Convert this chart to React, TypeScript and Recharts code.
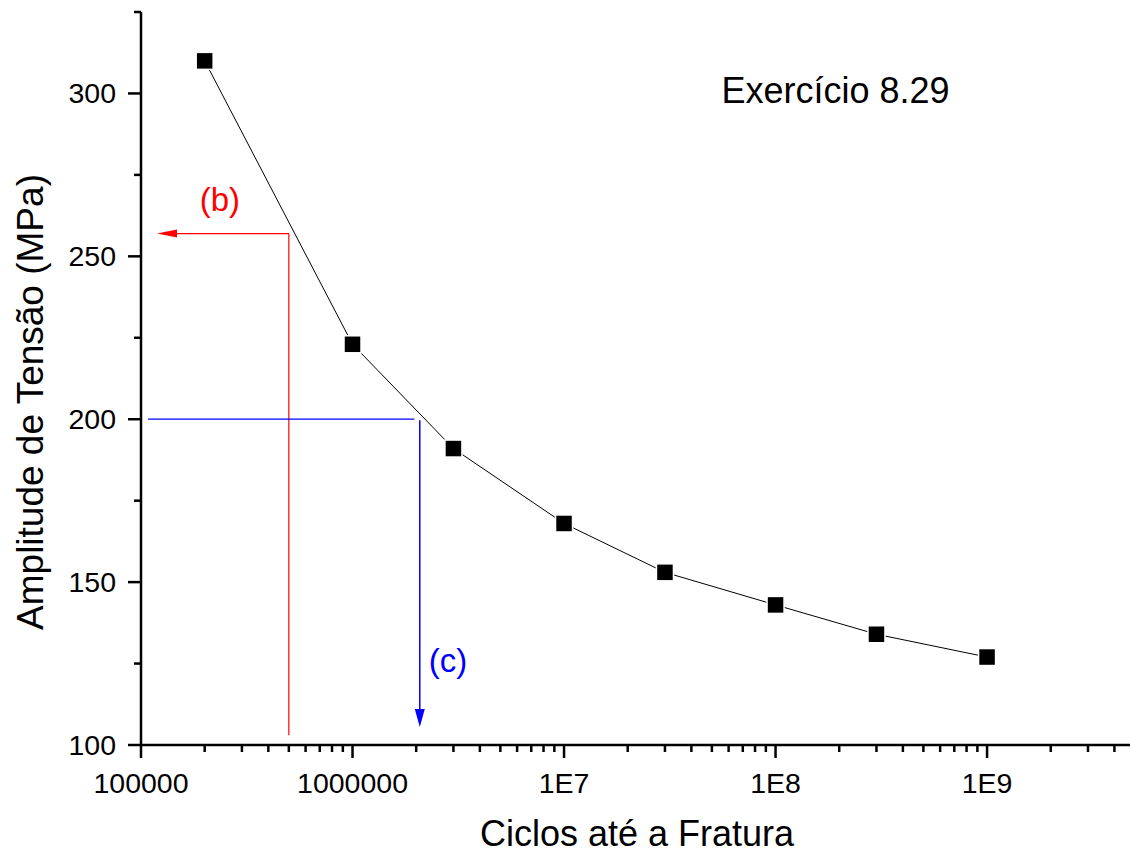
import React from 'react';
import { ScatterChart, Scatter, XAxis, YAxis, ReferenceLine, ReferenceDot } from 'recharts';

// ---- data ----
const cycles = [2e5, 1e6, 3e6, 1e7, 3e7, 1e8, 3e8, 1e9];
const stress = [310, 223, 191, 168, 153, 143, 134, 127];

const xMajorTicks = [1e5, 1e6, 1e7, 1e8, 1e9];
const xMajorLabels = ['100000', '1000000', '1E7', '1E8', '1E9'];
const xMinorMultipliers = [2, 3, 4, 5, 6, 7, 8, 9];
const xDomain = [1e5, 4.74e9];

const yMajorTicks = [100, 150, 200, 250, 300];
const yMinorTicks = [125, 175, 225, 275, 325];
const yDomain = [100, 325];

// annotation paths (part b in red, part c in blue)
const partBVertical = [{ x: 5e5, y: 103 }, { x: 5e5, y: 257 }];
const partBArrow = [{ x: 5e5, y: 257 }, { x: 1.19e5, y: 257 }];
const partCHorizontal = [{ x: 1.08e5, y: 200 }, { x: 1.96e6, y: 200 }];
const partCArrow = [{ x: 2.08e6, y: 199.7 }, { x: 2.08e6, y: 105.5 }];

const annotationTexts = [
  { x: 2.36e5, y: 267.5, text: '(b)', color: '#ff0000', size: 33 },
  { x: 2.83e6, y: 125.8, text: '(c)', color: '#0000ff', size: 33 },
  { x: 1.92e8, y: 301, text: 'Exercício 8.29', color: '#000000', size: 36 },
];

const xTitle = 'Ciclos até a Fratura';
const yTitle = 'Amplitude de Tensão (MPa)';

// ---- derived ----
const data = cycles.map((c, i) => ({ x: c, y: stress[i] }));
const xMinorTicks: number[] = [];
xMajorTicks.forEach((d) => xMinorMultipliers.forEach((m) => {
  const v = d * m;
  if (v <= xDomain[1]) xMinorTicks.push(v);
}));
const xAllTicks = [...xMajorTicks, ...xMinorTicks].sort((a, b) => a - b);
const yAllTicks = [...yMajorTicks, ...yMinorTicks].sort((a, b) => a - b);

const FONT = '"Liberation Sans", Arial, Helvetica, sans-serif';

const XTick = (props: any) => {
  const { x, y, payload } = props;
  const v = payload.value;
  const idx = xMajorTicks.findIndex((t) => Math.abs(t - v) / t < 1e-6);
  const major = idx >= 0;
  return (
    <g>
      <line x1={x} x2={x} y1={y} y2={y + (major ? 13 : 7)} stroke="#000" strokeWidth={2.5} />
      {major && (
        <text x={x} y={y + 48} textAnchor="middle" fontSize={28.5} fontFamily={FONT} fill="#000">
          {xMajorLabels[idx]}
        </text>
      )}
    </g>
  );
};

const YTick = (props: any) => {
  const { x, y, payload } = props;
  const v = payload.value;
  const major = yMajorTicks.includes(v);
  return (
    <g>
      <line x1={x} x2={x - (major ? 13 : 7)} y1={y} y2={y} stroke="#000" strokeWidth={2.5} />
      {major && (
        <text x={x - 25} y={y + 9.5} textAnchor="end" fontSize={28.5} fontFamily={FONT} fill="#000">
          {v}
        </text>
      )}
    </g>
  );
};

const Square = (p: any) => (
  <rect x={p.cx - 8.5} y={p.cy - 8.5} width={17} height={17} fill="#000" stroke="#fff" strokeWidth={1.5} />
);

const makeArrow = (color: string, headLen: number, headHalf: number, width: number) => (p: any) => {
  const { x1, y1, x2, y2 } = p;
  if ([x1, y1, x2, y2].some((v) => typeof v !== 'number' || isNaN(v))) return <g />;
  const dx = x2 - x1;
  const dy = y2 - y1;
  const len = Math.sqrt(dx * dx + dy * dy) || 1;
  const ux = dx / len;
  const uy = dy / len;
  const bx = x2 - ux * headLen;
  const by = y2 - uy * headLen;
  const nx = -uy;
  const ny = ux;
  return (
    <g>
      <line x1={x1} y1={y1} x2={bx} y2={by} stroke={color} strokeWidth={width} />
      <polygon
        points={`${x2},${y2} ${bx + nx * headHalf},${by + ny * headHalf} ${bx - nx * headHalf},${by - ny * headHalf}`}
        fill={color}
      />
    </g>
  );
};

const plainLine = (color: string, width: number) => (p: any) => (
  <line x1={p.x1} y1={p.y1} x2={p.x2} y2={p.y2} stroke={color} strokeWidth={width} />
);

const XTitle = () => (
  <text x={637} y={846} textAnchor="middle" fontSize={36} fontFamily={FONT} fill="#000">
    {xTitle}
  </text>
);

const YTitle = () => (
  <text
    x={30}
    y={402}
    transform="rotate(-90 30 402)"
    textAnchor="middle"
    dominantBaseline="central"
    fontSize={37}
    fontFamily={FONT}
    fill="#000"
  >
    {yTitle}
  </text>
);

export default function App() {
  return (
    <div style={{ position: 'absolute', left: 0, top: 0, background: '#fff' }}>
      <ScatterChart width={1132} height={856} margin={{ top: 12, right: 2, bottom: 0, left: 0 }}>
        <XAxis
          dataKey="x"
          type="number"
          scale="log"
          domain={xDomain}
          allowDataOverflow
          ticks={xAllTicks}
          interval={0}
          tick={<XTick />}
          tickLine={false}
          tickSize={0}
          tickMargin={0}
          axisLine={{ stroke: '#000', strokeWidth: 2.5 }}
          height={111}
          label={<XTitle />}
        />
        <YAxis
          dataKey="y"
          type="number"
          domain={yDomain}
          allowDataOverflow
          ticks={yAllTicks}
          interval={0}
          tick={<YTick />}
          tickLine={false}
          tickSize={0}
          tickMargin={0}
          axisLine={{ stroke: '#000', strokeWidth: 2.5 }}
          width={141}
          label={<YTitle />}
        />
        <ReferenceLine segment={partBVertical} ifOverflow="visible" shape={plainLine('#ff0000', 1.2)} />
        <ReferenceLine segment={partBArrow} ifOverflow="visible" shape={makeArrow('#ff0000', 20, 4, 1.2)} />
        <ReferenceLine segment={partCHorizontal} ifOverflow="visible" shape={plainLine('#0000ff', 1.2)} />
        <ReferenceLine segment={partCArrow} ifOverflow="visible" shape={makeArrow('#0000ff', 18, 5, 1.5)} />
        <Scatter
          data={data}
          fill="#000"
          line={{ stroke: '#000', strokeWidth: 1 }}
          lineType="joint"
          shape={<Square />}
          isAnimationActive={false}
        />
        {annotationTexts.map((a) => (
          <ReferenceDot
            key={a.text}
            x={a.x}
            y={a.y}
            r={0}
            ifOverflow="visible"
            shape={(p: any) => (
              <text
                x={p.cx}
                y={p.cy}
                textAnchor="middle"
                dominantBaseline="central"
                fontSize={a.size}
                fontFamily={FONT}
                fill={a.color}
              >
                {a.text}
              </text>
            )}
          />
        ))}
      </ScatterChart>
    </div>
  );
}
